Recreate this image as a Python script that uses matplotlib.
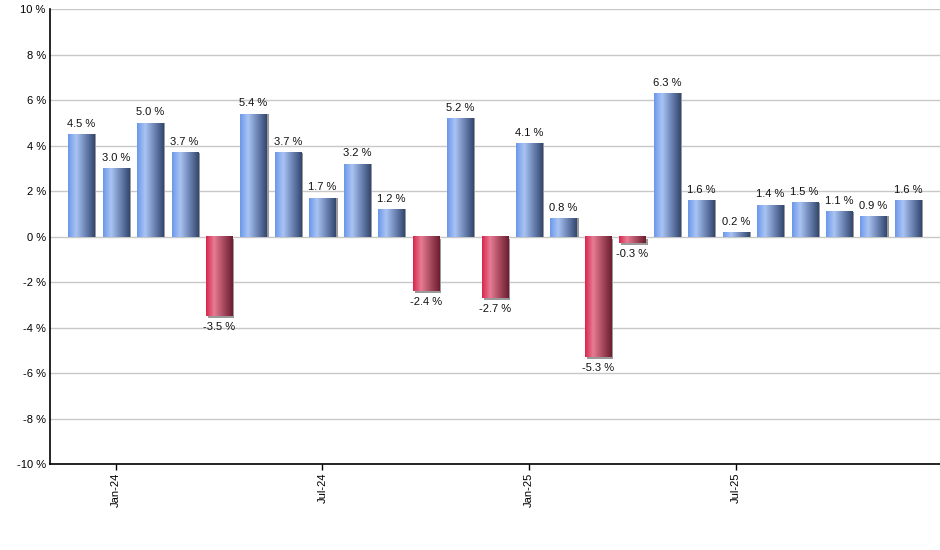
import matplotlib
matplotlib.use("Agg")
import matplotlib.pyplot as plt
import numpy as np
from matplotlib.colors import LinearSegmentedColormap
from matplotlib.patches import Rectangle

months = ["Dec-23", "Jan-24", "Feb-24", "Mar-24", "Apr-24", "May-24", "Jun-24", "Jul-24",
          "Aug-24", "Sep-24", "Oct-24", "Nov-24", "Dec-24", "Jan-25", "Feb-25", "Mar-25",
          "Apr-25", "May-25", "Jun-25", "Jul-25", "Aug-25", "Sep-25", "Oct-25", "Nov-25", "Dec-25"]
values = [4.5, 3.0, 5.0, 3.7, -3.5, 5.4, 3.7, 1.7, 3.2, 1.2, -2.4, 5.2, -2.7, 4.1, 0.8,
          -5.3, -0.3, 6.3, 1.6, 0.2, 1.4, 1.5, 1.1, 0.9, 1.6]
tick_labels = ["Jan-24", "Jul-24", "Jan-25", "Jul-25"]
y_ticks = [-10, -8, -6, -4, -2, 0, 2, 4, 6, 8, 10]

plt.rcParams['font.family'] = ['Liberation Sans', 'DejaVu Sans']

fig = plt.figure(figsize=(9.4, 5.5), dpi=100)
ax = fig.add_axes([50 / 940, (550 - 464) / 550, 1 - 50 / 940, (464 - 9.3) / 550])

blue_cmap = LinearSegmentedColormap.from_list(
    "b", [(0, "#6b97e9"), (0.3, "#a9c4f4"), (0.65, "#6c84b4"), (1, "#33466d")])
red_cmap = LinearSegmentedColormap.from_list(
    "r", [(0, "#d8254c"), (0.3, "#e77c93"), (0.65, "#a84a60"), (1, "#6c1d2f")])

grad = np.linspace(0, 1, 256).reshape(1, -1)
width = 0.76
x = np.arange(len(values))
px = 1 / 34.45  # data units per pixel (x)
py = 20 / 455   # data units per pixel (y)

for xi, v in zip(x, values):
    left = xi - width / 2
    lo, hi = min(0, v), max(0, v)
    # shadow
    sh = Rectangle((left + 2 * px, lo - (2 * py if v < 0 else 0)), width, hi - lo,
                   facecolor="#9a9a9a", edgecolor="none", zorder=2)
    ax.add_patch(sh)
    cmap = blue_cmap if v >= 0 else red_cmap
    ax.imshow(grad, cmap=cmap, aspect="auto", extent=(left, left + width, lo, hi),
              zorder=3, interpolation="bilinear")
    label = f"{v:.1f} %"
    if v >= 0:
        ax.annotate(label, (xi, v), xytext=(0, 4), textcoords="offset points",
                    ha="center", va="bottom", fontsize=8, color="#111111", zorder=4)
    else:
        ax.annotate(label, (xi, v), xytext=(0, -4), textcoords="offset points",
                    ha="center", va="top", fontsize=8, color="#111111", zorder=4)

ax.set_xlim(-0.91, 24.93)
ax.set_ylim(-10, 10)
ax.set_yticks(y_ticks)
ax.set_yticklabels([f"{t} %" for t in y_ticks], fontsize=8)
ax.tick_params(axis="y", length=0, pad=3)
tick_pos = [months.index(t) for t in tick_labels]
ax.set_xticks(tick_pos)
ax.set_xticklabels(tick_labels, rotation=90, fontsize=8)
ax.tick_params(axis="x", length=4, width=1, color="black", pad=2)
ax.grid(axis="y", color="#c8c8c8", linewidth=1, zorder=0)
ax.set_axisbelow(True)
for s in ["top", "right"]:
    ax.spines[s].set_visible(False)
for s in ["left", "bottom"]:
    ax.spines[s].set_color("black")
    ax.spines[s].set_linewidth(1.2)

fig.savefig("out.png", dpi=100)
